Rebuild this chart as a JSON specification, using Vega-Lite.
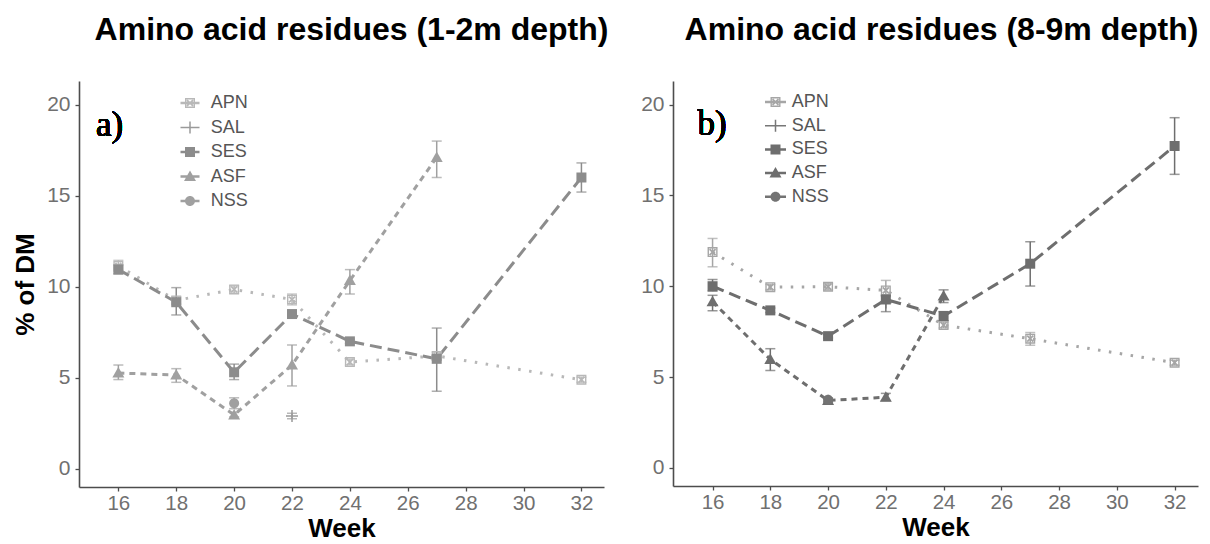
{
  "$schema": "https://vega.github.io/schema/vega-lite/v6.json",
  "padding": {"left": 12, "top": 14, "right": 5, "bottom": 0},
  "background": "white",
  "config": {
    "font": "Liberation Sans",
    "view": {"stroke": null},
    "axis": {"grid": false, "domainColor": "#4d4d4d", "domainWidth": 1.6, "tickColor": "#4d4d4d", "tickSize": 4, "tickWidth": 1.3, "labelFontSize": 21, "labelColor": "#707070", "labelPadding": 5, "titleFontSize": 26, "titleFontWeight": "bold", "titleColor": "#000000", "labelFont": "Liberation Sans", "titleFont": "Liberation Sans"},
    "axisX": {"labelPadding": 2, "titlePadding": 2, "labelFontSize": 20.5},
    "title": {"fontSize": 32, "fontWeight": "bold", "color": "#000000", "font": "Liberation Sans", "anchor": "middle"}
  },
  "datasets": {
    "a": [
      {"series": "APN", "week": 16, "value": 11.15, "lo": 10.85, "hi": 11.45},
      {"series": "APN", "week": 18, "value": 9.25, "lo": 9.05, "hi": 9.45},
      {"series": "APN", "week": 20, "value": 9.85, "lo": 9.65, "hi": 10.05},
      {"series": "APN", "week": 22, "value": 9.3, "lo": 9.0, "hi": 9.6},
      {"series": "APN", "week": 24, "value": 5.86, "lo": 5.7, "hi": 6.02},
      {"series": "APN", "week": 27, "value": 6.2, "lo": 6.0, "hi": 6.4},
      {"series": "APN", "week": 32, "value": 4.89, "lo": 4.75, "hi": 5.03},
      {"series": "SAL", "week": 22, "value": 2.9, "lo": 2.75, "hi": 3.05},
      {"series": "SES", "week": 16, "value": 10.95, "lo": 10.7, "hi": 11.2},
      {"series": "SES", "week": 18, "value": 9.15, "lo": 8.45, "hi": 9.95},
      {"series": "SES", "week": 20, "value": 5.3, "lo": 4.9, "hi": 5.75},
      {"series": "SES", "week": 22, "value": 8.5, "lo": 8.35, "hi": 8.65},
      {"series": "SES", "week": 24, "value": 7.0, "lo": 6.88, "hi": 7.12},
      {"series": "SES", "week": 27, "value": 6.04, "lo": 4.26, "hi": 7.73},
      {"series": "SES", "week": 32, "value": 16.0, "lo": 15.2, "hi": 16.8},
      {"series": "ASF", "week": 16, "value": 5.26, "lo": 4.9, "hi": 5.7},
      {"series": "ASF", "week": 18, "value": 5.15, "lo": 4.75, "hi": 5.5},
      {"series": "ASF", "week": 20, "value": 2.96, "lo": 2.85, "hi": 3.1},
      {"series": "ASF", "week": 22, "value": 5.7, "lo": 4.55, "hi": 6.8},
      {"series": "ASF", "week": 24, "value": 10.34, "lo": 9.6, "hi": 10.94},
      {"series": "ASF", "week": 27, "value": 17.1, "lo": 16.0, "hi": 18.0},
      {"series": "NSS", "week": 20, "value": 3.6, "lo": 3.3, "hi": 3.9}
    ],
    "b": [
      {"series": "APN", "week": 16, "value": 11.88, "lo": 11.07, "hi": 12.63},
      {"series": "APN", "week": 18, "value": 9.95, "lo": 9.8, "hi": 10.1},
      {"series": "APN", "week": 20, "value": 9.97, "lo": 9.8, "hi": 10.15},
      {"series": "APN", "week": 22, "value": 9.77, "lo": 9.18, "hi": 10.32},
      {"series": "APN", "week": 24, "value": 7.86, "lo": 7.7, "hi": 8.02},
      {"series": "APN", "week": 27, "value": 7.11, "lo": 6.75, "hi": 7.45},
      {"series": "APN", "week": 32, "value": 5.79, "lo": 5.65, "hi": 5.93},
      {"series": "SAL", "week": 22, "value": 9.1, "lo": 8.6, "hi": 9.5},
      {"series": "SES", "week": 16, "value": 10.0, "lo": 9.73, "hi": 10.37},
      {"series": "SES", "week": 18, "value": 8.67, "lo": 8.55, "hi": 8.8},
      {"series": "SES", "week": 20, "value": 7.25, "lo": 7.15, "hi": 7.35},
      {"series": "SES", "week": 22, "value": 9.27, "lo": 9.1, "hi": 9.45},
      {"series": "SES", "week": 24, "value": 8.36, "lo": 8.1, "hi": 8.6},
      {"series": "SES", "week": 27, "value": 11.24, "lo": 10.01, "hi": 12.45},
      {"series": "SES", "week": 32, "value": 17.72, "lo": 16.16, "hi": 19.28},
      {"series": "ASF", "week": 16, "value": 9.15, "lo": 8.65, "hi": 9.5},
      {"series": "ASF", "week": 18, "value": 5.97, "lo": 5.36, "hi": 6.56},
      {"series": "ASF", "week": 20, "value": 3.71, "lo": 3.6, "hi": 3.82},
      {"series": "ASF", "week": 22, "value": 3.89, "lo": 3.7, "hi": 4.1},
      {"series": "ASF", "week": 24, "value": 9.46, "lo": 9.1, "hi": 9.8},
      {"series": "NSS", "week": 20, "value": 3.75, "lo": 3.65, "hi": 3.85}
    ],
    "leg": [
      {"series": "APN"}, {"series": "SAL"}, {"series": "SES"}, {"series": "ASF"}, {"series": "NSS"}
    ]
  },
  "hconcat": [
    {
      "width": 525,
      "height": 406,
      "title": {"text": "Amino acid residues (1-2m depth)", "dx": 10, "offset": 34},
      "data": {"name": "a"},
      "layer": [
        {
          "mark": {"type": "line", "strokeWidth": 3, "strokeCap": "butt"},
          "encoding": {
            "x": {"field": "week", "type": "quantitative", "scale": {"domain": [14.64, 32.78], "nice": false, "zero": false}, "axis": {"values": [16, 18, 20, 22, 24, 26, 28, 30, 32], "title": "Week"}},
            "y": {"field": "value", "type": "quantitative", "scale": {"domain": [-1, 21.3], "nice": false, "zero": false}, "axis": {"values": [0, 5, 10, 15, 20], "title": "% of DM", "titlePadding": 8}},
            "color": {"field": "series", "type": "nominal", "scale": {"domain": ["APN", "SAL", "SES", "ASF", "NSS"], "range": ["#b8b8b8", "#9a9a9a", "#8c8c8c", "#a0a0a0", "#a0a0a0"]}, "legend": null},
            "strokeDash": {"field": "series", "type": "nominal", "scale": {"domain": ["APN", "SAL", "SES", "ASF", "NSS"], "range": [[2.5, 8.5], [1, 0], [12, 6], [6, 5], [1, 0]]}, "legend": null},
            "order": {"field": "week", "type": "quantitative"}
          }
        },
        {
          "mark": {"type": "errorbar", "ticks": {"size": 10}, "thickness": 1.5},
          "encoding": {
            "x": {"field": "week", "type": "quantitative", "title": "Week"},
            "y": {"field": "lo", "type": "quantitative", "title": "% of DM"},
            "y2": {"field": "hi"},
            "color": {"field": "series", "type": "nominal", "scale": {"domain": ["APN", "SAL", "SES", "ASF", "NSS"], "range": ["#b8b8b8", "#9a9a9a", "#8c8c8c", "#a0a0a0", "#a0a0a0"]}, "legend": null}
          }
        },
        {
          "mark": {"type": "point", "filled": true, "opacity": 1, "size": 100},
          "encoding": {
            "x": {"field": "week", "type": "quantitative", "title": "Week"},
            "y": {"field": "value", "type": "quantitative", "title": "% of DM"},
            "color": {"field": "series", "type": "nominal", "scale": {"domain": ["APN", "SAL", "SES", "ASF", "NSS"], "range": ["#b8b8b8", "#9a9a9a", "#8c8c8c", "#a0a0a0", "#a0a0a0"]}, "legend": null},
            "shape": {"field": "series", "type": "nominal", "scale": {"domain": ["APN", "SAL", "SES", "ASF", "NSS"], "range": [
              "M-1,-1H1V1H-1Z M-0.72,-0.72V0.72H0.72V-0.72Z M-0.72,-0.47L-0.47,-0.72L0.72,0.47L0.47,0.72Z M0.72,-0.47L-0.47,0.72L-0.72,0.47L0.47,-0.72Z",
              "M-1.2,-0.15H1.2V0.15H-1.2Z M-0.15,-1.2H0.15V1.2H-0.15Z",
              "M-1,-1H1V1H-1Z",
              "M0,-1.2L1.2,0.9H-1.2Z",
              "M-1,0A1,1,0,1,1,1,0A1,1,0,1,1,-1,0Z"
            ]}, "legend": null}
          }
        },
        {
          "mark": {"type": "text", "font": "Liberation Serif", "fontSize": 35, "fontWeight": "normal", "align": "left", "baseline": "alphabetic", "color": "#000000"},
          "encoding": {
            "x": {"datum": 15.23},
            "y": {"datum": 18.3},
            "text": {"value": "a)"}
          }
        },
        {
          "data": {"name": "leg"},
          "transform": [{"filter": "false"}],
          "mark": {"type": "point", "filled": true, "opacity": 1, "size": 100},
          "encoding": {
            "color": {"field": "series", "type": "nominal", "scale": {"domain": ["APN", "SAL", "SES", "ASF", "NSS"], "range": ["#b8b8b8", "#9a9a9a", "#8c8c8c", "#a0a0a0", "#a0a0a0"]},
              "legend": {"title": null, "orient": "none", "legendX": 102, "legendY": 13, "direction": "vertical", "padding": 0, "symbolSize": 100, "symbolStrokeWidth": 0, "labelFontSize": 18, "labelColor": "#555555", "labelOffset": 11.7, "rowPadding": 6.5, "labelFont": "Liberation Sans"}},
            "shape": {"field": "series", "type": "nominal", "scale": {"domain": ["APN", "SAL", "SES", "ASF", "NSS"], "range": [
              "M-1.9,-0.25H1.9V0.25H-1.9Z M-1,-1H1V1H-1Z M-0.72,-0.72V0.72H0.72V-0.72Z M-0.72,-0.47L-0.47,-0.72L0.72,0.47L0.47,0.72Z M0.72,-0.47L-0.47,0.72L-0.72,0.47L0.47,-0.72Z",
              "M-1.9,-0.15H1.9V0.15H-1.9Z M-0.15,-1.2H0.15V1.2H-0.15Z",
              "M-1.9,-0.25H1.9V0.25H-1.9Z M-1,-1H1V1H-1Z",
              "M-1.9,-0.25H1.9V0.25H-1.9Z M0,-1.2L1.2,0.9H-1.2Z",
              "M-1.9,-0.25H1.9V0.25H-1.9Z M-1,0A1,1,0,1,1,1,0A1,1,0,1,1,-1,0Z"
            ]},
              "legend": {"title": null, "orient": "none", "legendX": 102, "legendY": 13, "direction": "vertical", "padding": 0, "symbolSize": 100, "symbolStrokeWidth": 0, "labelFontSize": 18, "labelColor": "#555555", "labelOffset": 11.7, "rowPadding": 6.5, "labelFont": "Liberation Sans"}}
          }
        }
      ],
      "resolve": {"scale": {"shape": "independent", "color": "independent"}, "legend": {"shape": "independent", "color": "independent"}}
    },
    {
      "width": 525,
      "height": 405,
      "title": {"text": "Amino acid residues (8-9m depth)", "dx": 6, "offset": 34},
      "data": {"name": "b"},
      "layer": [
        {
          "mark": {"type": "line", "strokeWidth": 3, "strokeCap": "butt"},
          "encoding": {
            "x": {"field": "week", "type": "quantitative", "scale": {"domain": [14.63, 32.81], "nice": false, "zero": false}, "axis": {"values": [16, 18, 20, 22, 24, 26, 28, 30, 32], "title": "Week"}},
            "y": {"field": "value", "type": "quantitative", "scale": {"domain": [-1, 21.3], "nice": false, "zero": false}, "axis": {"values": [0, 5, 10, 15, 20], "title": null}},
            "color": {"field": "series", "type": "nominal", "scale": {"domain": ["APN", "SAL", "SES", "ASF", "NSS"], "range": ["#a6a6a6", "#777777", "#6e6e6e", "#6e6e6e", "#737373"]}, "legend": null},
            "strokeDash": {"field": "series", "type": "nominal", "scale": {"domain": ["APN", "SAL", "SES", "ASF", "NSS"], "range": [[2.5, 8.5], [1, 0], [12, 6], [6, 5], [1, 0]]}, "legend": null},
            "order": {"field": "week", "type": "quantitative"}
          }
        },
        {
          "mark": {"type": "errorbar", "ticks": {"size": 10}, "thickness": 1.5},
          "encoding": {
            "x": {"field": "week", "type": "quantitative", "title": "Week"},
            "y": {"field": "lo", "type": "quantitative", "title": null},
            "y2": {"field": "hi"},
            "color": {"field": "series", "type": "nominal", "scale": {"domain": ["APN", "SAL", "SES", "ASF", "NSS"], "range": ["#a6a6a6", "#777777", "#6e6e6e", "#6e6e6e", "#737373"]}, "legend": null}
          }
        },
        {
          "mark": {"type": "point", "filled": true, "opacity": 1, "size": 100},
          "encoding": {
            "x": {"field": "week", "type": "quantitative", "title": "Week"},
            "y": {"field": "value", "type": "quantitative", "title": null},
            "color": {"field": "series", "type": "nominal", "scale": {"domain": ["APN", "SAL", "SES", "ASF", "NSS"], "range": ["#a6a6a6", "#777777", "#6e6e6e", "#6e6e6e", "#737373"]}, "legend": null},
            "shape": {"field": "series", "type": "nominal", "scale": {"domain": ["APN", "SAL", "SES", "ASF", "NSS"], "range": [
              "M-1,-1H1V1H-1Z M-0.72,-0.72V0.72H0.72V-0.72Z M-0.72,-0.47L-0.47,-0.72L0.72,0.47L0.47,0.72Z M0.72,-0.47L-0.47,0.72L-0.72,0.47L0.47,-0.72Z",
              "M-1.2,-0.15H1.2V0.15H-1.2Z M-0.15,-1.2H0.15V1.2H-0.15Z",
              "M-1,-1H1V1H-1Z",
              "M0,-1.2L1.2,0.9H-1.2Z",
              "M-1,0A1,1,0,1,1,1,0A1,1,0,1,1,-1,0Z"
            ]}, "legend": null}
          }
        },
        {
          "mark": {"type": "text", "font": "Liberation Serif", "fontSize": 35, "fontWeight": "normal", "align": "left", "baseline": "alphabetic", "color": "#000000"},
          "encoding": {
            "x": {"datum": 15.48},
            "y": {"datum": 18.3},
            "text": {"value": "b)"}
          }
        },
        {
          "data": {"name": "leg"},
          "transform": [{"filter": "false"}],
          "mark": {"type": "point", "filled": true, "opacity": 1, "size": 100},
          "encoding": {
            "color": {"field": "series", "type": "nominal", "scale": {"domain": ["APN", "SAL", "SES", "ASF", "NSS"], "range": ["#a6a6a6", "#777777", "#6e6e6e", "#6e6e6e", "#737373"]},
              "legend": {"title": null, "orient": "none", "legendX": 93.5, "legendY": 12, "direction": "vertical", "padding": 0, "symbolSize": 100, "symbolStrokeWidth": 0, "labelFontSize": 18, "labelColor": "#555555", "labelOffset": 7.3, "rowPadding": 5.7, "labelFont": "Liberation Sans"}},
            "shape": {"field": "series", "type": "nominal", "scale": {"domain": ["APN", "SAL", "SES", "ASF", "NSS"], "range": [
              "M-2.1,-0.25H2.1V0.25H-2.1Z M-1,-1H1V1H-1Z M-0.72,-0.72V0.72H0.72V-0.72Z M-0.72,-0.47L-0.47,-0.72L0.72,0.47L0.47,0.72Z M0.72,-0.47L-0.47,0.72L-0.72,0.47L0.47,-0.72Z",
              "M-2.1,-0.15H2.1V0.15H-2.1Z M-0.15,-1.2H0.15V1.2H-0.15Z",
              "M-2.1,-0.25H2.1V0.25H-2.1Z M-1,-1H1V1H-1Z",
              "M-2.1,-0.25H2.1V0.25H-2.1Z M0,-1.2L1.2,0.9H-1.2Z",
              "M-2.1,-0.25H2.1V0.25H-2.1Z M-1,0A1,1,0,1,1,1,0A1,1,0,1,1,-1,0Z"
            ]},
              "legend": {"title": null, "orient": "none", "legendX": 93.5, "legendY": 12, "direction": "vertical", "padding": 0, "symbolSize": 100, "symbolStrokeWidth": 0, "labelFontSize": 18, "labelColor": "#555555", "labelOffset": 7.3, "rowPadding": 5.7, "labelFont": "Liberation Sans"}}
          }
        }
      ],
      "resolve": {"scale": {"shape": "independent", "color": "independent"}, "legend": {"shape": "independent", "color": "independent"}}
    }
  ],
  "spacing": 31,
  "resolve": {"scale": {"x": "independent", "y": "independent", "color": "independent", "shape": "independent", "strokeDash": "independent"}, "legend": {"color": "independent", "shape": "independent", "strokeDash": "independent"}}
}
